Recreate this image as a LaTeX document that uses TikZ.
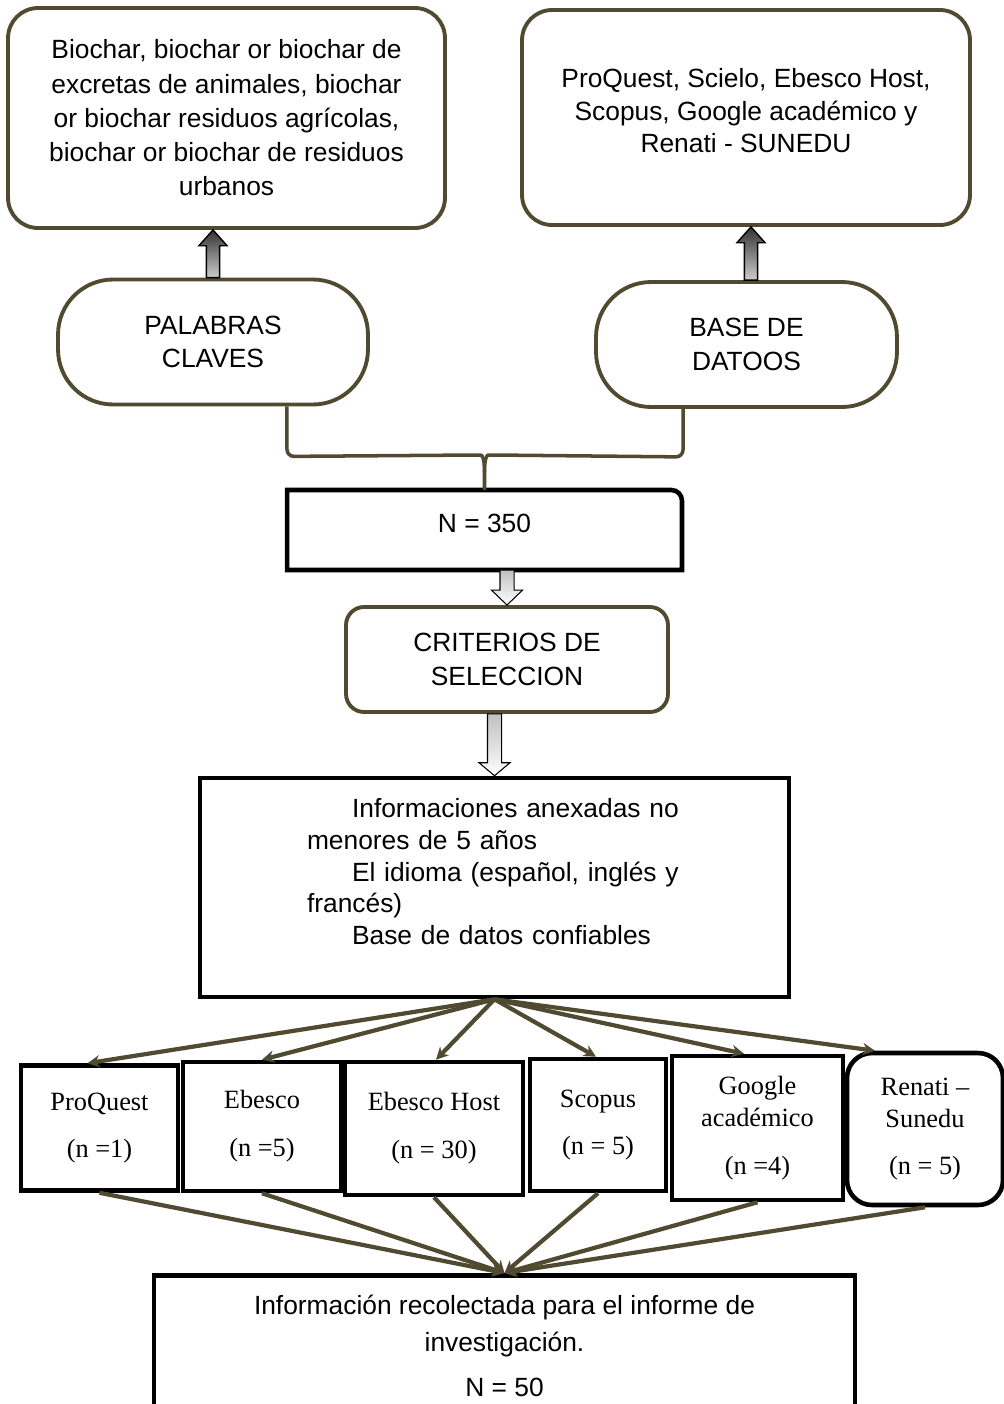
\documentclass[tikz,border=0pt]{standalone}
\usepackage{fontspec}
\setmainfont{Liberation Sans}
\newfontfamily\boxserif{Liberation Serif}
\usetikzlibrary{arrows.meta, positioning, calc}
\definecolor{darkolive}{RGB}{80,75,48}
\tikzset{
    olivebox/.style={
        draw=darkolive,
        line width=2.2pt,
        rounded corners=0.6cm,
        align=center,
        font=\fontsize{15}{19.5}\selectfont
    },
    pillbox/.style={
        draw=darkolive,
        line width=2.2pt,
        rounded corners=1.1cm,
        minimum height=2.5cm,
        align=center
    },
    blackbox/.style={draw=black, line width=2.6pt, align=center},
    sourcebox/.style={blackbox, font=\boxserif\fontsize{15}{18.2}\selectfont},
    bracket/.style={draw=darkolive, line width=2pt, rounded corners=4pt},
    fanline/.style={draw=darkolive, line width=2.4pt, -{Stealth[length=7pt,width=7pt]}},
    blockup/.style={top color=black!80, bottom color=black!20, draw=black, line width=0.8pt},
    blockdown/.style={top color=black!25, bottom color=white, draw=black, line width=0.6pt},
    every node/.style={font=\fontsize{15}{19}\selectfont}
}

\begin{document}
\begin{tikzpicture}[x=0.02cm,y=-0.02cm]
\useasboundingbox (0,0) rectangle (1004,1404);
\clip (0,0) rectangle (1004,1404);

% Search terms and databases
\node[olivebox, minimum width=8.74cm, minimum height=4.4cm] (kw) at (226.5,118)
    {Biochar, biochar or biochar de\\excretas de animales, biochar\\or biochar residuos agrícolas,\\biochar or biochar de residuos\\urbanos};
\node[olivebox, font=\fontsize{15}{18.5}\selectfont, minimum width=8.96cm, minimum height=4.3cm] (db) at (746,117.5)
    {ProQuest, Scielo, Ebesco Host,\\Scopus, Google académico y\\Renati - SUNEDU\\[-10.5pt]\mbox{}};

\node[pillbox, minimum width=6.2cm] (pal) at (213,342) {PALABRAS\\CLAVES};
\node[pillbox, minimum width=6.02cm] (bdd) at (746.5,344.5) {BASE DE\\DATOOS};

\shadedraw[blockup] let \p1=(pal.north), \p2=(kw.south) in
    (\x1-3.8pt,\y1) -- (\x1-3.8pt,\y2-9pt) -- (\x1-8pt,\y2-9pt) -- (\x1,\y2)
    -- (\x1+8pt,\y2-9pt) -- (\x1+3.8pt,\y2-9pt) -- (\x1+3.8pt,\y1) -- cycle;
\shadedraw[blockup] let \p1=([xshift=0.09cm]bdd.north), \p2=(db.south) in
    (\x1-3.8pt,\y1) -- (\x1-3.8pt,\y2-9pt) -- (\x1-8pt,\y2-9pt) -- (\x1,\y2)
    -- (\x1+8pt,\y2-9pt) -- (\x1+3.8pt,\y2-9pt) -- (\x1+3.8pt,\y1) -- cycle;

% Total and selection
\node[align=center, minimum width=7.9cm, minimum height=1.6cm, outer sep=0pt] (n350) at (484.5,530) {N = 350\\[-11pt]\mbox{}};
\draw[blackbox] (n350.south west) -- (n350.north west) [rounded corners=6pt] -- (n350.north east)
    [sharp corners] -- (n350.south east) -- cycle;

\draw[bracket] ([xshift=1.48cm]pal.south) -- ++(0,50) -- ([xshift=-0.22cm,yshift=0.7cm]n350.north) [sharp corners]
    .. controls ([xshift=-0.04cm,yshift=0.7cm]n350.north) and ([yshift=0.62cm]n350.north) .. ([yshift=0.36cm]n350.north)
    -- (n350.north);
\draw[bracket] ([xshift=-1.27cm]bdd.south) -- ++(0,48) -- ([xshift=0.22cm,yshift=0.7cm]n350.north) [sharp corners]
    .. controls ([xshift=0.04cm,yshift=0.7cm]n350.north) and ([yshift=0.62cm]n350.north) .. ([yshift=0.36cm]n350.north);

\node[olivebox, rounded corners=0.36cm, minimum width=6.44cm, minimum height=2.1cm] (crit) at (507,659.5)
    {CRITERIOS DE\\SELECCION};

\node[blackbox, text width=7.5cm, inner xsep=2.14cm, align=left, minimum height=4.38cm,
      font=\fontsize{15}{18}\selectfont] (info) at (494.5,887.5)
    {\hspace*{0.9cm}Informaciones anexadas no\\menores de 5 años\\\hspace*{0.9cm}El idioma (español, inglés y\\francés)\\\hspace*{0.9cm}Base de datos confiables\\\mbox{}};

\shadedraw[blockdown] let \p1=(n350.south), \p2=(crit.north) in
    (\x2-4pt,\y1) -- (\x2-4pt,\y2+8.5pt) -- (\x2-8.8pt,\y2+8.5pt) -- (\x2,\y2)
    -- (\x2+8.8pt,\y2+8.5pt) -- (\x2+4pt,\y2+8.5pt) -- (\x2+4pt,\y1) -- cycle;
\shadedraw[blockdown] let \p1=(crit.south), \p2=(info.north) in
    (\x2-4pt,\y1) -- (\x2-4pt,\y2+7.4pt) -- (\x2-8.8pt,\y2+7.4pt) -- (\x2,\y2)
    -- (\x2+8.8pt,\y2+7.4pt) -- (\x2+4pt,\y2+7.4pt) -- (\x2+4pt,\y1) -- cycle;

% Sources
\node[sourcebox, minimum width=3.14cm, minimum height=2.5cm] (pq) at (99.5,1128) {ProQuest\\[9pt](n =1)};
\node[sourcebox, minimum width=3.16cm, minimum height=2.58cm] (eb) at (262,1126.5) {Ebesco\\[9pt](n =5)};
\node[sourcebox, minimum width=3.56cm, minimum height=2.66cm] (ebh) at (434,1128.5) {Ebesco Host\\[9pt](n = 30)};
\node[sourcebox, minimum width=2.72cm, minimum height=2.64cm] (sco) at (598,1125) {Scopus\\[9pt](n = 5)};
\node[sourcebox, minimum width=3.42cm, minimum height=2.88cm] (goo) at (757.5,1128) {Google\\académico\\[9pt](n =4)};
\node[sourcebox, rounded corners=0.5cm, minimum width=3.12cm, minimum height=3.04cm] (ren) at (925,1129) {Renati –\\Sunedu\\[9pt](n = 5)};

\node[blackbox, anchor=north, minimum width=14.02cm, inner ysep=0.4cm, font=\fontsize{15}{21}\selectfont] (concl) at (504.5,1273)
    {Información recolectada para el informe de\\investigación.\\[4.6pt]N = 50};

\foreach \dst/\dx in {pq/-0.24, eb/0, ebh/0.04, sco/-0.04, goo/-0.27, ren/-1.0}
    \draw[fanline] (info.south) -- ([xshift=\dx cm]\dst.north);

\foreach \src in {pq, eb, ebh, sco, goo, ren}
    \draw[fanline] (\src.south) -- (concl.north);
\end{tikzpicture}
\end{document}
